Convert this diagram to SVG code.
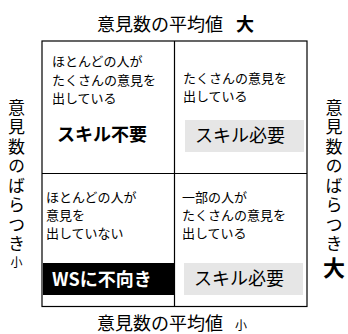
<svg xmlns="http://www.w3.org/2000/svg" width="348" height="334" viewBox="0 0 348 334">
<style>
text{font-family:"Noto Sans CJK JP","Noto Sans",sans-serif;fill:#000}
.axis{font-size:18px}
.vert{font-size:17px;writing-mode:vertical-rl;letter-spacing:2.5px}
.cell{font-size:13px}
.big{font-size:18px}
.bold{font-weight:bold}
.grid{fill:none;stroke:#000;stroke-width:1.2}
.gray{fill:#e6e6e6}
</style>
<rect width="348" height="334" fill="#fff"/>
<g id="grid">
<rect class="grid" x="42" y="41" width="265" height="265.5"/>
<line class="grid" x1="174.5" y1="41" x2="174.5" y2="306.5"/>
<line class="grid" x1="42" y1="173.5" x2="307" y2="173.5"/>
</g>
<g id="top-label">
<text class="axis" x="97" y="30.5">意見数の平均値</text>
<text class="axis bold" x="236" y="31" font-size="22">大</text>
</g>
<g id="bottom-label">
<text class="axis" x="97" y="330">意見数の平均値</text>
<text x="235" y="330" font-size="12">小</text>
</g>
<g id="left-label">
<text class="vert" x="16.5" y="99">意見数のばらつき</text>
<text x="16.5" y="267" font-size="12" text-anchor="middle">小</text>
</g>
<g id="right-label">
<text class="vert" x="334" y="99">意見数のばらつき</text>
<text x="334" y="276" font-size="22" font-weight="bold" text-anchor="middle">大</text>
</g>
<g id="q-top-left">
<text class="cell"><tspan x="52" y="66">ほとんどの人が</tspan><tspan x="52" y="84.5">たくさんの意見を</tspan><tspan x="52" y="103">出している</tspan></text>
<text class="big bold" x="57" y="141">スキル不要</text>
</g>
<g id="q-top-right">
<text class="cell"><tspan x="183" y="83">たくさんの意見を</tspan><tspan x="183" y="101">出している</tspan></text>
<rect class="gray" x="185" y="120" width="119" height="32"/>
<text class="big" x="195" y="142">スキル必要</text>
</g>
<g id="q-bottom-left">
<text class="cell"><tspan x="46" y="201.5">ほとんどの人が</tspan><tspan x="46" y="219.5">意見を</tspan><tspan x="46" y="237.5">出していない</tspan></text>
<rect x="43" y="263" width="131" height="32" fill="#000"/>
<text class="big bold" x="52" y="286" style="fill:#fff">WSに不向き</text>
</g>
<g id="q-bottom-right">
<text class="cell"><tspan x="182" y="201.5">一部の人が</tspan><tspan x="182" y="219.5">たくさんの意見を</tspan><tspan x="182" y="237.5">出している</tspan></text>
<rect class="gray" x="184" y="263" width="119" height="32"/>
<text class="big" x="194" y="285">スキル必要</text>
</g>
</svg>
